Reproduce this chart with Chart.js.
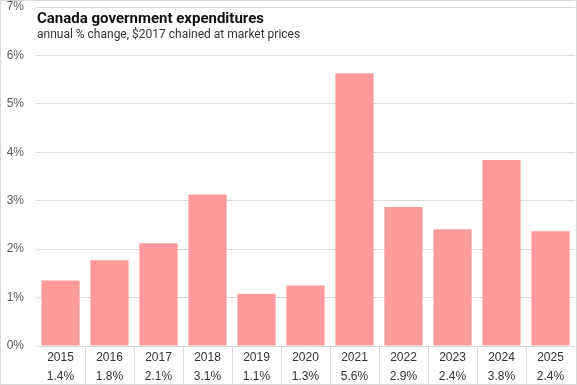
<!DOCTYPE html>
<html>
<head>
<meta charset="utf-8">
<script src="https://cdn.jsdelivr.net/npm/chart.js@4/dist/chart.umd.min.js"></script>
<style>
html,body{margin:0;padding:0;background:#fff;}
#wrap{width:577px;height:385px;position:relative;}
</style>
</head>
<body>
<div id="wrap"><canvas id="c" width="577" height="385"></canvas></div>
<script>
const years = ["2015","2016","2017","2018","2019","2020","2021","2022","2023","2024","2025"];
const growth = [1.35, 1.77, 2.12, 3.13, 1.08, 1.25, 5.63, 2.87, 2.41, 3.84, 2.37];
const growthLabels = ["1.4%","1.8%","2.1%","3.1%","1.1%","1.3%","5.6%","2.9%","2.4%","3.8%","2.4%"];
const yTicks = [0,1,2,3,4,5,6,7];
const titleText = "Canada government expenditures";
const subtitleText = "annual % change, $2017 chained at market prices";

const GRID = "#d9d9d9";

const tablePlugin = {
  id: "tablePlugin",
  afterDraw(chart) {
    const ctx = chart.ctx;
    const x = chart.scales.x;
    const ca = chart.chartArea;
    const W = chart.width, H = chart.height;
    ctx.save();
    ctx.strokeStyle = GRID;
    ctx.lineWidth = 1;
    for (let i = 1; i < years.length; i++) {
      const px = Math.round((x.getPixelForValue(i - 1) + x.getPixelForValue(i)) / 2) + 0.5;
      ctx.beginPath();
      ctx.moveTo(px, ca.bottom);
      ctx.lineTo(px, H - 1);
      ctx.stroke();
    }
    ctx.strokeRect(0.5, 0.5, W - 1, H - 1);
    ctx.fillStyle = "#111";
    ctx.textAlign = "left";
    ctx.textBaseline = "alphabetic";
    ctx.font = "bold 15px Roboto, 'Liberation Sans', sans-serif";
    ctx.fillText(titleText, ca.left + 1, 23);
    ctx.fillStyle = "#333";
    ctx.font = "12px Roboto, 'Liberation Sans', sans-serif";
    ctx.fillText(subtitleText, ca.left + 1, 38);
    ctx.restore();
  }
};

new Chart(document.getElementById("c"), {
  type: "bar",
  data: {
    labels: years.map((y, i) => [y, growthLabels[i]]),
    datasets: [{
      data: growth,
      backgroundColor: "#ff9a9b",
      borderWidth: 0,
      categoryPercentage: 0.78,
      barPercentage: 1.0
    }]
  },
  options: {
    responsive: false,
    animation: false,
    devicePixelRatio: 1,
    layout: { padding: { top: 7, right: 2, bottom: 1, left: 0 } },
    plugins: { legend: { display: false }, tooltip: { enabled: false }, title: { display: false } },
    scales: {
      x: {
        offset: true,
        grid: { display: false, drawTicks: false },
        border: { display: false },
        ticks: {
          color: "#333",
          font: { family: "'Liberation Sans', Arial, sans-serif", size: 12, lineHeight: 1.6 },
          padding: 2,
          maxRotation: 0,
          autoSkip: false
        },
        afterFit(s) { s.height = 38; s.paddingLeft = 0; s.paddingRight = 0; }
      },
      y: {
        min: 0,
        max: 7,
        afterBuildTicks(s) { s.ticks = yTicks.map(v => ({ value: v })); },
        grid: { color: GRID, drawTicks: false, lineWidth: 1 },
        border: { display: false },
        ticks: {
          color: "#595959",
          font: { family: "'Liberation Sans', Arial, sans-serif", size: 12 },
          padding: 12,
          callback: v => v + "%"
        },
        afterFit(s) { s.width = 36; s.paddingTop = 0; s.paddingBottom = 0; }
      }
    }
  },
  plugins: [tablePlugin]
});
</script>
</body>
</html>
